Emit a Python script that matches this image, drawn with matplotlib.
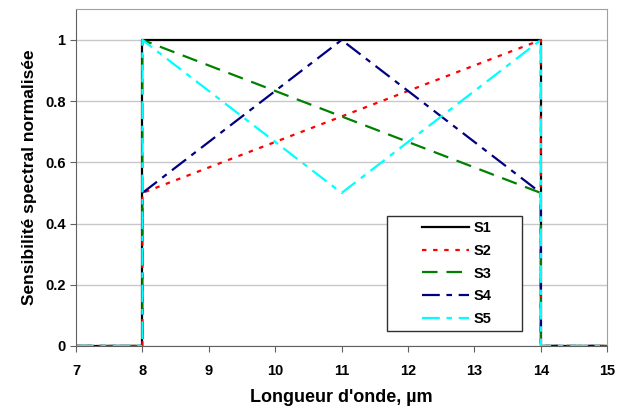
import numpy as np
import matplotlib.pyplot as plt
from matplotlib.patches import Rectangle

plt.rcParams['font.family'] = ['Liberation Sans', 'DejaVu Sans']

# data to plot
wavelength = [7, 8, 8, 11, 14, 14, 15]
s1 = [0, 0, 1, 1, 1, 0, 0]
s2 = [0, 0, 0.5, 0.75, 1, 0, 0]
s3 = [0, 0, 1, 0.75, 0.5, 0, 0]
s4 = [0, 0, 0.5, 1, 0.5, 0, 0]
s5 = [0, 0, 1, 0.5, 1, 0, 0]
labels = ['S1', 'S2', 'S3', 'S4', 'S5']

fig = plt.figure(figsize=(6.28, 4.07), dpi=100)
ax = fig.add_axes([0.121, 0.150, 0.846, 0.827])

ax.plot(wavelength, s1, color='black', lw=1.6, ls='-', label=labels[0])
ax.plot(wavelength, s2, color='#FF0000', lw=1.6, ls=(0, (2, 3)), label=labels[1])
ax.plot(wavelength, s3, color='#008000', lw=1.6, ls=(0, (7, 4)), label=labels[2])
ax.plot(wavelength, s4, color='#000080', lw=1.6, ls=(0, (8, 3, 2.5, 3)), label=labels[3])
ax.plot(wavelength, s5, color='#00FFFF', lw=1.6, ls=(0, (8, 3, 2.5, 3)), label=labels[4])

ax.set_xlim(7, 15)
ax.set_ylim(0, 1.1)
ax.set_xticks(np.arange(7, 16, 1))
ax.set_yticks([0, 0.2, 0.4, 0.6, 0.8, 1])
ax.set_yticklabels(['0', '0.2', '0.4', '0.6', '0.8', '1'])
ax.yaxis.grid(True, color='#C8C8C8', lw=1)
ax.set_axisbelow(True)

for sp in ['top', 'right']:
    ax.spines[sp].set_color('#A0A0A0')
for sp in ['left', 'bottom']:
    ax.spines[sp].set_color('#606060')
ax.tick_params(direction='out', length=4, color='#606060', labelsize=10.5)
for t in ax.get_xticklabels() + ax.get_yticklabels():
    t.set_fontweight('bold')
ax.tick_params(axis='x', pad=9)

ax.set_xlabel("Longueur d'onde, µm", fontsize=13, fontweight='bold', labelpad=8)
ax.set_ylabel('Sensibilité spectral normalisée', fontsize=12.5, fontweight='bold', labelpad=6)

# legend without its own frame, box drawn separately (Excel style, handles set in)
leg = ax.legend(loc='upper left', bbox_to_anchor=(417 / 628, 1 - 216 / 407),
                bbox_transform=fig.transFigure, frameon=False,
                fontsize=10.5, handlelength=3.2,
                handletextpad=0.3, borderpad=0.35, labelspacing=0.6,
                borderaxespad=0)
for t in leg.get_texts():
    t.set_fontweight('bold')
box = Rectangle((387 / 628, 1 - 331 / 407), 135 / 628, 115 / 407,
                transform=fig.transFigure, facecolor='white',
                edgecolor='#303030', lw=1, zorder=4)
ax.add_artist(box)
box.set_clip_on(False)
leg.set_zorder(5)

plt.savefig('out.png')
